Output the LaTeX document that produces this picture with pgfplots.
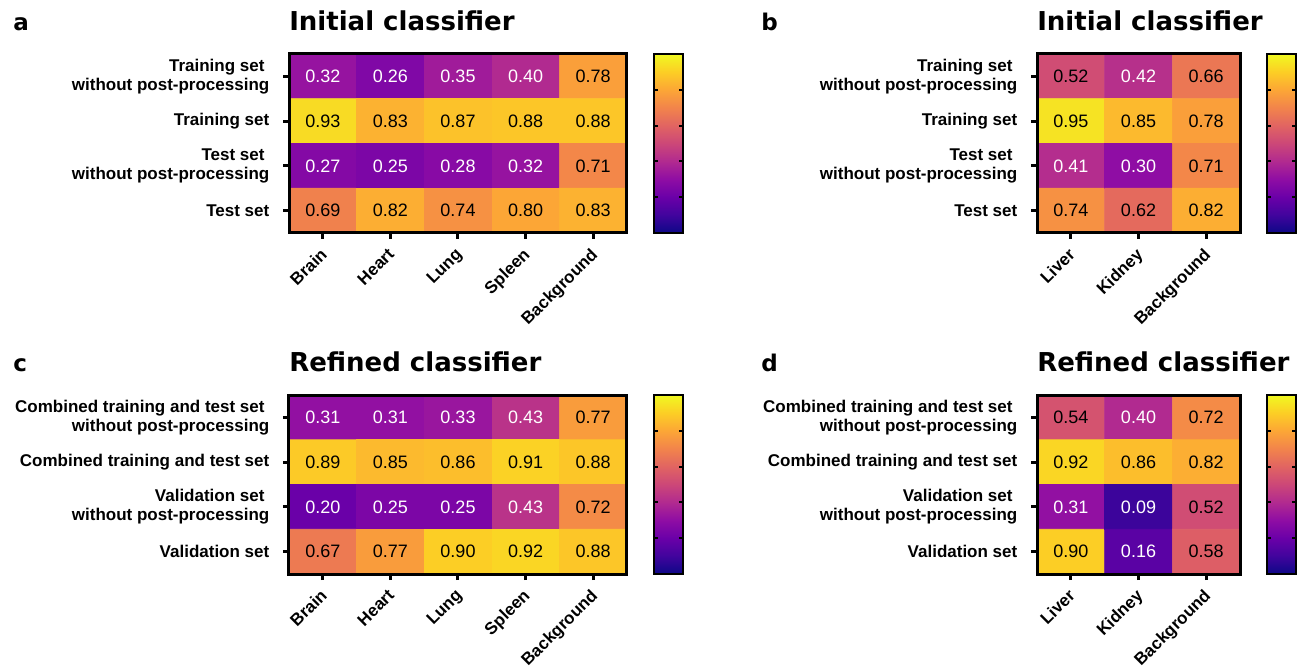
\documentclass[border=0pt]{standalone}
\usepackage{pgfplots}
\usepackage{pgfplotstable}
\pgfplotsset{compat=1.18}
\usepackage{fontspec}
\setmainfont{Liberation Sans}
\newfontfamily\djv{DejaVu Sans}

\pgfplotsset{colormap={plasma}{rgb255=(13,8,135) rgb255=(65,4,157) rgb255=(106,0,168) rgb255=(143,13,164) rgb255=(177,42,144) rgb255=(204,71,120) rgb255=(225,100,98) rgb255=(242,132,75) rgb255=(252,166,54) rgb255=(252,206,37) rgb255=(240,249,33)}}

\pgfplotstableread{
x y v
0 0 0.32
1 0 0.26
2 0 0.35
3 0 0.40
4 0 0.78
0 1 0.93
1 1 0.83
2 1 0.87
3 1 0.88
4 1 0.88
0 2 0.27
1 2 0.25
2 2 0.28
3 2 0.32
4 2 0.71
0 3 0.69
1 3 0.82
2 3 0.74
3 3 0.80
4 3 0.83
}\tabA
\pgfplotstableread{
x y v
0 0 0.52
1 0 0.42
2 0 0.66
0 1 0.95
1 1 0.85
2 1 0.78
0 2 0.41
1 2 0.30
2 2 0.71
0 3 0.74
1 3 0.62
2 3 0.82
}\tabB
\pgfplotstableread{
x y v
0 0 0.31
1 0 0.31
2 0 0.33
3 0 0.43
4 0 0.77
0 1 0.89
1 1 0.85
2 1 0.86
3 1 0.91
4 1 0.88
0 2 0.20
1 2 0.25
2 2 0.25
3 2 0.43
4 2 0.72
0 3 0.67
1 3 0.77
2 3 0.90
3 3 0.92
4 3 0.88
}\tabC
\pgfplotstableread{
x y v
0 0 0.54
1 0 0.40
2 0 0.72
0 1 0.92
1 1 0.86
2 1 0.82
0 2 0.31
1 2 0.09
2 2 0.52
0 3 0.90
1 3 0.16
2 3 0.58
}\tabD

\pgfplotsset{
  heat/.style={
    scale only axis, height=134.25pt,
    y dir=reverse, ymin=-0.5, ymax=3.5, xmin=-0.5,
    ytick={0,1,2,3}, xtick={0,...,4},
    enlargelimits=false, axis on top,
    colormap name=plasma, point meta min=0, point meta max=1,
    tick align=outside, tick pos=left, major tick length=4.5pt,
    axis line style={line width=2.25pt},
    major tick style={line width=2.25pt, black},
    yticklabel style={align=right, xshift=-6.75pt, font=\bfseries\fontsize{12.75}{14.25}\selectfont},
    xticklabel style={rotate=45, anchor=north east, inner sep=0pt, xshift=-6pt, yshift=-2.25pt, font=\bfseries\fontsize{12.75}{14.25}\selectfont},
    colorbar,
    colorbar/width=21.75pt,
    colorbar shift/.style={},
    colorbar style={at={(parent axis.north east)}, anchor=north west, xshift=20.25pt,
      scale only axis, width=21.75pt, xmin=0, xmax=1, enlargelimits=false, axis on top,
      ytick={0.2,0.4,0.6,0.8}, yticklabels={}, xtick=\empty,
      tick align=inside, tick pos=both, major tick length=3pt,
      major tick style={line width=1.5pt, black}, axis line style={line width=1.5pt}},
  },
  celltxt/.style={only marks, mark=*, mark size=0pt, mark options={draw=none, fill=none},
    point meta=explicit, unbounded coords=discard,
    nodes near coords={\pgfmathprintnumber[fixed, fixed zerofill, precision=2, assume math mode=true]{\pgfplotspointmeta}},
    nodes near coords align=center,
    every node near coord/.append style={font=\fontsize{13.5}{16}\selectfont, anchor=center, text=#1, fill opacity=1, text opacity=1}},
}

\newcommand{\ttl}{\djv\bfseries\fontsize{19.5}{22}\selectfont}
\newcommand{\lett}{\djv\bfseries\fontsize{17.25}{20}\selectfont}

\begin{document}
\begin{tikzpicture}
\path[use as bounding box] (0,0) rectangle (979.5pt,-499.5pt);

% panel a
\node[anchor=base west, font=\lett, inner sep=0pt] at (9.75pt,-22.9pt) {a};
\node[anchor=base west, font=\ttl, inner sep=0pt] at (216.75pt,-22.9pt) {Initial classifier};
\begin{axis}[heat, at={(216.75pt,-40.5pt)}, anchor=north west, width=253.5pt, xmax=4.5,
  yticklabels={{Training set\hspace*{0.28em}\\without post-processing}, {Training set}, {Test set\hspace*{0.28em}\\without post-processing}, {Test set}},
  xticklabels={Brain, Heart, Lung, Spleen, Background}]
\addplot[matrix plot*, mesh/cols=5, point meta=explicit] table[x=x, y=y, meta=v] {\tabA};
\addplot[celltxt=white, restrict expr to domain={\thisrow{v}}{0:0.5}] table[x=x, y=y, meta=v] {\tabA};
\addplot[celltxt=black, restrict expr to domain={\thisrow{v}}{0.5:1}] table[x=x, y=y, meta=v] {\tabA};
\end{axis}

% panel b
\node[anchor=base west, font=\lett, inner sep=0pt] at (570.75pt,-22.9pt) {b};
\node[anchor=base west, font=\ttl, inner sep=0pt] at (777.75pt,-22.9pt) {Initial classifier};
\begin{axis}[heat, at={(777.75pt,-40.5pt)}, anchor=north west, width=152.25pt, xmax=2.5, xtick={0,1,2},
  yticklabels={{Training set\hspace*{0.28em}\\without post-processing}, {Training set}, {Test set\hspace*{0.28em}\\without post-processing}, {Test set}},
  xticklabels={Liver, Kidney, Background}]
\addplot[matrix plot*, mesh/cols=3, point meta=explicit] table[x=x, y=y, meta=v] {\tabB};
\addplot[celltxt=white, restrict expr to domain={\thisrow{v}}{0:0.5}] table[x=x, y=y, meta=v] {\tabB};
\addplot[celltxt=black, restrict expr to domain={\thisrow{v}}{0.5:1}] table[x=x, y=y, meta=v] {\tabB};
\end{axis}

% panel c
\node[anchor=base west, font=\lett, inner sep=0pt] at (9.75pt,-278.6pt) {c};
\node[anchor=base west, font=\ttl, inner sep=0pt] at (216.75pt,-278.6pt) {Refined classifier};
\begin{axis}[heat, at={(216.75pt,-296.25pt)}, anchor=north west, width=253.5pt, xmax=4.5,
  yticklabels={{Combined training and test set\hspace*{0.28em}\\without post-processing}, {Combined training and test set}, {Validation set\hspace*{0.28em}\\without post-processing}, {Validation set}},
  xticklabels={Brain, Heart, Lung, Spleen, Background}]
\addplot[matrix plot*, mesh/cols=5, point meta=explicit] table[x=x, y=y, meta=v] {\tabC};
\addplot[celltxt=white, restrict expr to domain={\thisrow{v}}{0:0.5}] table[x=x, y=y, meta=v] {\tabC};
\addplot[celltxt=black, restrict expr to domain={\thisrow{v}}{0.5:1}] table[x=x, y=y, meta=v] {\tabC};
\end{axis}

% panel d
\node[anchor=base west, font=\lett, inner sep=0pt] at (570.75pt,-278.6pt) {d};
\node[anchor=base west, font=\ttl, inner sep=0pt] at (777.75pt,-278.6pt) {Refined classifier};
\begin{axis}[heat, at={(777.75pt,-296.25pt)}, anchor=north west, width=152.25pt, xmax=2.5, xtick={0,1,2},
  yticklabels={{Combined training and test set\hspace*{0.28em}\\without post-processing}, {Combined training and test set}, {Validation set\hspace*{0.28em}\\without post-processing}, {Validation set}},
  xticklabels={Liver, Kidney, Background}]
\addplot[matrix plot*, mesh/cols=3, point meta=explicit] table[x=x, y=y, meta=v] {\tabD};
\addplot[celltxt=white, restrict expr to domain={\thisrow{v}}{0:0.5}] table[x=x, y=y, meta=v] {\tabD};
\addplot[celltxt=black, restrict expr to domain={\thisrow{v}}{0.5:1}] table[x=x, y=y, meta=v] {\tabD};
\end{axis}
\end{tikzpicture}
\end{document}
